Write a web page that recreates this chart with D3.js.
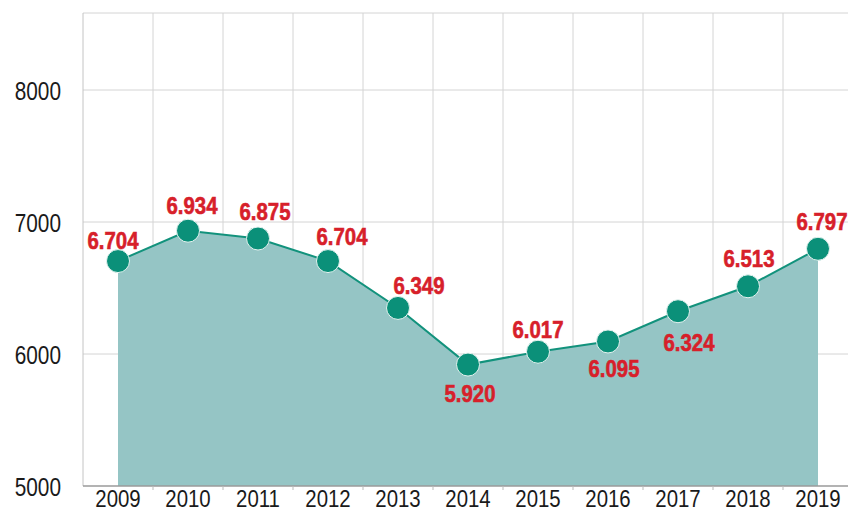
<!DOCTYPE html>
<html>
<head>
<meta charset="utf-8">
<script src="https://cdn.jsdelivr.net/npm/d3@7"></script>
<style>
    body { margin: 0; background: #fff; }
    svg { display: block; }
    .grid line { stroke: #d4d4d4; stroke-width: 1; }
    .tick-label { font-family: "Liberation Sans", Arial, sans-serif; font-size: 26px; fill: #1a1a1a; }
    .x-label { font-size: 24px; }
    .value-label { font-family: "Liberation Sans", Arial, sans-serif; font-size: 24px; font-weight: bold; fill: #d7202a; stroke: #d7202a; stroke-width: 0.6px; }
</style>
</head>
<body>
<svg id="chart" width="852" height="513"></svg>
<script>
/**
 * Data.
 */
const years = ['2009', '2010', '2011', '2012', '2013', '2014', '2015', '2016', '2017', '2018', '2019'];
const values = [6704, 6934, 6875, 6704, 6349, 5920, 6017, 6095, 6324, 6513, 6797];
const yTicks = [5000, 6000, 7000, 8000];

/**
 * Visual configs.
 */
const margin = { top: 13, right: 4, bottom: 27, left: 83 },
    visWidth = 852, visHeight = 513,
    radius = 11.5,
    labelSquash = 0.85, // condensed look of the value labels
    tickSquash = 0.8;   // condensed look of the axis labels

// Label offsets relative to each point (dx, dy of the baseline)
const labelOffset = {
    '2009': [-5, -12],
    '2010': [4, -17],
    '2011': [7, -19],
    '2012': [14, -16],
    '2013': [21, -14],
    '2014': [2, 37],
    '2015': [0, -14],
    '2016': [6, 36],
    '2017': [11, 40],
    '2018': [1, -19],
    '2019': [4, -19]
};

const width = visWidth - margin.left - margin.right,
    height = visHeight - margin.top - margin.bottom;

const svg = d3.select('#chart');
const g = svg.append('g').attr('transform', 'translate(' + margin.left + ',' + margin.top + ')');

/**
 * Scales.
 */
const xScale = d3.scaleBand().domain(years).range([0, 770]).padding(0);
const yScale = d3.scaleLinear().domain([5000, 8000]).range([height, height - 396]);
const cx = y => xScale(y) + xScale.bandwidth() / 2;

const fmt = d3.formatLocale({ decimal: ',', thousands: '.', grouping: [3], currency: ['', ''] }).format(',d');

const data = years.map((y, i) => ({ year: y, value: values[i] }));

/**
 * Grid.
 */
const grid = g.append('g').attr('class', 'grid');
grid.selectAll('.h').data(yTicks.slice(1)).enter().append('line')
    .attr('x1', 0).attr('x2', width)
    .attr('y1', d => yScale(d)).attr('y2', d => yScale(d));
grid.append('line').attr('x1', 0).attr('x2', width).attr('y1', 0).attr('y2', 0);
grid.selectAll('.v').data(years.slice(1)).enter().append('line')
    .attr('x1', d => xScale(d)).attr('x2', d => xScale(d))
    .attr('y1', 0).attr('y2', height);
grid.append('line').attr('x1', 0).attr('x2', 0).attr('y1', 0).attr('y2', height)
    .style('stroke', '#c4c4c4');

/**
 * Area and line.
 */
const area = d3.area().x(d => cx(d.year)).y0(height).y1(d => yScale(d.value));
const line = d3.line().x(d => cx(d.year)).y(d => yScale(d.value));

g.append('path').datum(data).attr('d', area).attr('fill', '#95c5c5');
g.append('path').datum(data).attr('d', line)
    .attr('fill', 'none').attr('stroke', '#12927c').attr('stroke-width', 2);

// Baseline axis
g.append('line').attr('x1', 0).attr('x2', width)
    .attr('y1', height).attr('y2', height)
    .attr('stroke', '#9a9a9a').attr('stroke-width', 1.5);
g.selectAll('.xtick').data(years.slice(1)).enter().append('line')
    .attr('x1', d => xScale(d)).attr('x2', d => xScale(d))
    .attr('y1', height).attr('y2', height + 4)
    .attr('stroke', '#bbbbbb');

/**
 * Points.
 */
g.selectAll('.dot').data(data).enter().append('circle')
    .attr('cx', d => cx(d.year)).attr('cy', d => yScale(d.value))
    .attr('r', radius)
    .attr('fill', '#0b9079')
    .attr('stroke', '#e6f3f0').attr('stroke-width', 1);

/**
 * Labels.
 */
g.selectAll('.value-label').data(data).enter().append('text')
    .attr('class', 'value-label')
    .attr('text-anchor', 'middle')
    .attr('transform', d => {
        const o = labelOffset[d.year] || [0, -14];
        return 'translate(' + (cx(d.year) + o[0]) + ',' + (yScale(d.value) + o[1]) + ') scale(' + labelSquash + ',1)';
    })
    .text(d => fmt(d.value));

g.selectAll('.ylabel').data(yTicks).enter().append('text')
    .attr('class', 'tick-label')
    .attr('text-anchor', 'end')
    .attr('transform', d => 'translate(-22,' + (yScale(d) + 10) + ') scale(' + tickSquash + ',1)')
    .text(d => d);

g.selectAll('.xlabel').data(years).enter().append('text')
    .attr('class', 'tick-label x-label')
    .attr('text-anchor', 'middle')
    .attr('transform', d => 'translate(' + cx(d) + ',' + (height + 21) + ') scale(0.85,1)')
    .text(d => d);
</script>
</body>
</html>
